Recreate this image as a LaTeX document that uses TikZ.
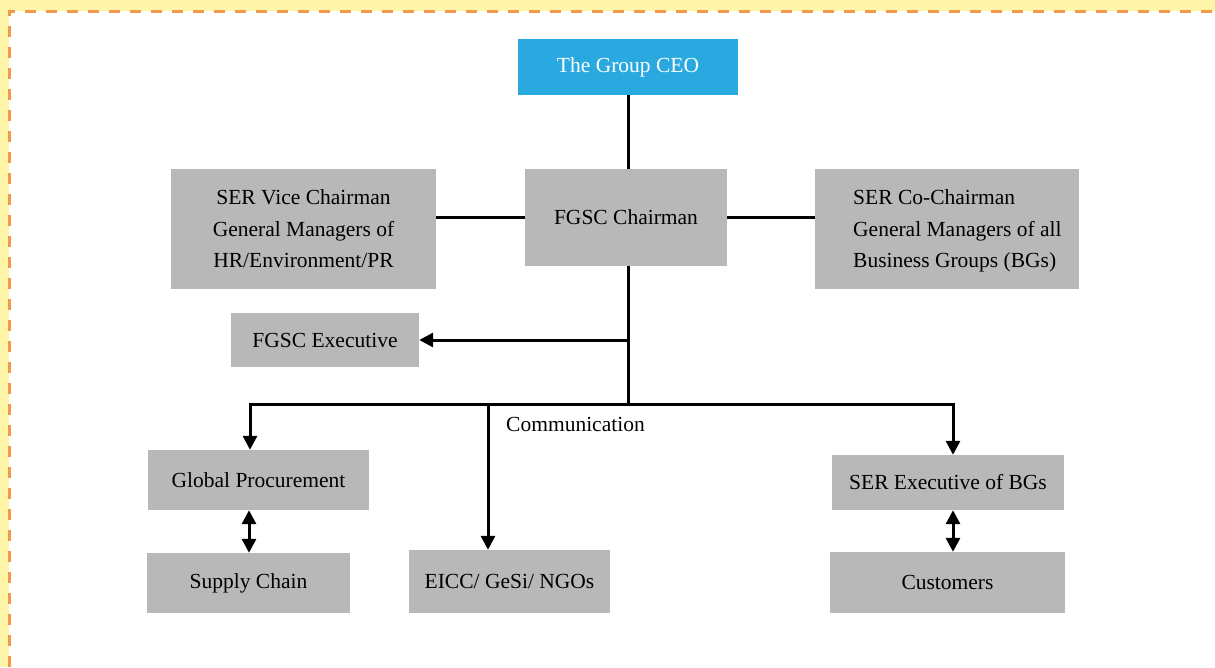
\documentclass[tikz,border=0pt]{standalone}
\usepackage{fontspec}
\setmainfont{Liberation Serif}
\usetikzlibrary{arrows.meta,calc}
\definecolor{boxgray}{HTML}{B8B8B9}
\definecolor{ceoblue}{HTML}{29A9E0}
\definecolor{frameyellow}{HTML}{FFF5A8}
\definecolor{frameorange}{HTML}{F2994A}
\tikzset{
  gbox/.style={fill=boxgray, inner sep=0pt, align=center, font=\fontsize{21.5}{31.5}\selectfont},
  bbox/.style={fill=ceoblue, inner sep=0pt, align=center, text=white, font=\fontsize{21.5}{31.5}\selectfont},
  conn/.style={line width=3pt, black, line join=miter},
  arr/.style={conn, -{Triangle[length=14pt,width=14pt]}},
  darr/.style={conn, {Triangle[length=14pt,width=14pt]}-{Triangle[length=14pt,width=14pt]}},
  lbl/.style={inner sep=0pt, font=\fontsize{21.5}{25}\selectfont},
  mlbl/.style={inner sep=0pt, align=left, font=\fontsize{21.5}{31.5}\selectfont},
}
\begin{document}
\begin{tikzpicture}[x=1pt,y=-1pt]
\useasboundingbox (0,0) rectangle (1215,667);
% frame
\fill[frameyellow] (0,0) rectangle (1215,667);
\fill[white] (9,11) rectangle (1215,667);
\draw[frameorange, line width=3pt, dash pattern=on 11pt off 10pt] (9,667) -- (9,11) -- (1215,11);

% nodes
\node[bbox, minimum width=220pt, minimum height=56pt] (ceo) at (628,67) {The Group CEO};
\node[gbox, minimum width=202pt, minimum height=97pt] (chair) at (626,217.5) {FGSC Chairman};
\node[gbox, minimum width=265pt, minimum height=120pt] (vice) at (303.5,229) {SER Vice Chairman\\General Managers of\\HR/Environment/PR};
\node[gbox, minimum width=264pt, minimum height=120pt] (co) at (947,229) {};
\node[mlbl, anchor=west] (coText) at (853,231) {SER Co-Chairman\\General Managers of all\\Business Groups (BGs)};
\node[gbox, minimum width=188pt, minimum height=54pt] (exec) at (325,340) {FGSC Executive};
\node[gbox, minimum width=221pt, minimum height=60pt] (gp) at (258.5,480) {Global Procurement};
\node[gbox, minimum width=203pt, minimum height=60pt] (sc) at (248.5,583) {Supply Chain};
\node[gbox, minimum width=201pt, minimum height=63pt] (eicc) at (509.5,581.5) {EICC/ GeSi/ NGOs};
\node[gbox, minimum width=232pt, minimum height=55pt] (se) at (948,482.5) {SER Executive of BGs};
\node[gbox, minimum width=235pt, minimum height=61pt] (cu) at (947.5,582.5) {Customers};
\node[lbl, anchor=west] (comm) at (506,424) {Communication};

% junction coordinates
\coordinate (jC) at (628,404);
\coordinate (barL) at (250,404);
\coordinate (barR) at (953,404);
\coordinate (barE) at (488,404);

% connectors
\draw[conn] (ceo.south) -- (ceo.south |- chair.north);
\draw[conn] (chair.west) -- (chair.west -| vice.east);
\draw[conn] (chair.east) -- (chair.east -| co.west);
\draw[conn] (jC |- chair.south) -- (jC);
\draw[arr] (jC |- exec.east) -- (exec.east);
\draw[darr] (barL |- gp.north) -- (barL) -- (barR) -- (barR |- se.north);
\draw[arr] (barE) -- (barE |- eicc.north);
\draw[darr] ($(barL |- gp.south)+(-1,0)$) -- ($(barL |- sc.north)+(-1,0)$);
\draw[darr] (barR |- se.south) -- (barR |- cu.north);
\end{tikzpicture}
\end{document}
